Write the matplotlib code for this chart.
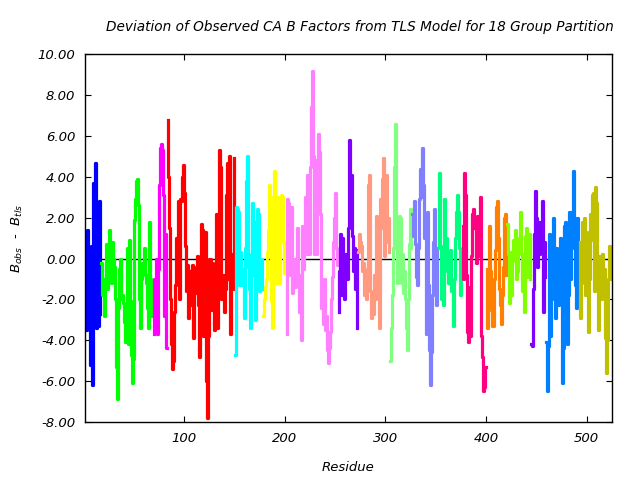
import numpy as np
import matplotlib
matplotlib.use("Agg")
import matplotlib.pyplot as plt

# ── Data: one list of deviations per TLS group ───────────────────────────────
FIRST_RESIDUE = 2
GROUP_COLORS = ["#0000FF", "#00FF00", "#FF00FF", "#FF0000", "#00FFFF", "#FFFF00",
                "#FF80FF", "#8000FF", "#FF9980", "#80FF80", "#8080FF", "#00FF80",
                "#FF0080", "#FF8000", "#80FF00", "#8000FF", "#0080FF", "#C0C000"]

g01 = [-2.6, -3.5, 1.4, -0.5, 0.5, -5.2, 0.6, -6.2, 3.7, -3.1, 4.7, -3.4, 1.0, -3.3, 2.8, -2.7]
g02 = [-0.2, -1.8, -1.0, -2.8, -1.2, 0.7, -1.5, -0.6, 1.4, 0.8, -1.2, 0.8, 0.0, -0.4, -2.0,
       -5.3, -6.9, -2.4, -0.5, 0.0, -2.0, -1.8, -2.2, -3.1, -4.1, -2.6, 0.5, -4.2, 0.9, -2.1,
       -4.7, -6.1, -4.9, 1.9, 2.9, 3.8, 3.9, 2.6, -2.0, -3.4, -1.0, -0.2, -0.5, 0.5, -0.8,
       -1.2, -2.4, -3.4, 1.8, -1.0, -2.8, -1.3]
g03 = [-3.7, -1.0, -3.6, 0.0, -3.7, -0.5, 3.6, 5.4, 5.6, 5.3, 3.1, -2.8, 1.2, -4.4]
g04 = [6.8, 4.0, 1.5, -2.0, -4.2, -5.4, -5.0, -2.6, -1.3, 1.0, -0.4, 2.8, -2.0, 2.9, 2.8,
       4.0, 4.6, 3.2, 0.6, -1.6, -0.3, -2.9, -1.0, -0.6, -2.3, -0.3, -3.9, -0.5, -1.7, -0.4,
       0.1, -2.3, -4.8, -0.8, 1.7, 1.4, -3.8, -1.2, 1.3, -6.0, -7.8, -3.8, 0.0, -2.5, -0.2,
       -1.3, -3.5, -0.8, 2.2, -3.4, 1.8, 5.3, 4.5, -2.0, -1.2, -0.8, -2.6, -1.5, 3.1, 4.7,
       -1.0, 5.0, -3.7, -1.1, 0.2, -1.5, 4.9]
g05 = [-4.7, 2.5, 2.4, 2.3, -1.3, 0.3, -1.2, -1.3, -0.5, -2.9, 0.5, 3.8, 5.0, -0.4, -1.5,
       -3.4, 0.2, 2.7, -0.8, 1.8, -3.0, -1.2, 2.4, 2.2, -1.6, -0.8, 0.0, -1.5]
g06 = [-2.8, -2.0, -1.4, -1.0, 0.3, 1.4, 3.6, 3.0, -2.1, -3.4, 1.5, 4.3, 2.0, -1.2, 3.0,
       -0.6, -1.2, 1.6, 3.1, 3.0, 0.8, -0.7, 0.5]
g07 = [-3.7, 2.9, 2.7, 0.2, -0.8, 2.5, -1.7, -0.8, 0.0, -1.4, -0.7, 1.5, -0.8, -2.6, -0.8,
       -4.0, 1.6, -0.5, 1.6, 3.0, 0.2, 4.1, 3.1, 0.2, 4.5, 7.4, 9.2, 5.0, 0.2, 4.8, 0.2, 4.4,
       6.1, 5.2, 2.2, -2.4, -1.5, -3.2, -1.0, -3.5, -2.8, -4.5, -5.1, -4.4, -3.6, -2.0, -0.9,
       0.8, 2.0, 3.2, 0.5, -0.3]
g08 = [-2.6, -0.6, 1.2, -1.8, 1.0, -0.6, -2.0, 0.2, -0.8, -1.0, 1.5, 5.8, 4.1, 1.1, -0.6,
       0.5, -1.5, 0.4, -3.4]
g09 = [0.3, 1.2, 0.8, 0.6, -0.6, -0.2, -1.8, -1.0, -2.0, -0.5, 3.6, 4.1, -1.6, -2.9, -2.0,
       -2.7, -0.8, -2.0, 2.1, 1.7, -0.5, -3.4, 2.9, 1.5, 3.9, 4.9, 0.1, 3.0, 4.1, 0.8, 2.0, 0.3]
g10 = [-5.0, -3.4, -1.8, 0.5, 4.5, 6.6, 1.0, -1.2, 0.0, 2.1, 2.0, -1.2, 0.2, -1.7, -0.6,
       -2.0, -3.4, -4.5, -2.0, 0.7, 2.4, 0.5]
g11 = [2.2, 1.1, 2.8, 0.7, -0.9, -1.3, 0.5, 2.9, 4.4, 3.0, 5.4, 3.6, 1.0, 2.2, -3.7, 2.3,
       -1.3, -4.5, -6.2, -4.6, -1.8, 0.8, 2.4, -1.5, -2.3, 0.5]
g12 = [0.5, 4.2, 0.6, -2.0, 0.5, -2.3, 2.9, 0.1, 1.0, -0.6, -1.2, -0.4, 0.4, -1.6, -1.2,
       -3.3, -1.0, 1.0, 2.3, 3.1, 2.3, 0.5, -1.8, 0.3]
g13 = [1.6, -1.0, 4.2, 3.1, -0.8, -3.6, -4.1, -1.4, -3.8, 0.1, 2.2, 2.4, 1.5, 2.0, -0.2,
       2.1, 0.1, 1.0, 3.0, -3.8, -4.8, -6.5, -6.3, -5.3]
g14 = [-0.5, -3.4, -1.6, 1.6, -0.6, -2.5, -3.3, -1.0, 0.4, 2.5, 2.8, 1.0, -1.5, -2.3, -3.2,
       -1.8, -0.4, 2.0, 2.2, -0.8]
g15 = [1.7, 0.2, -2.2, 0.3, -1.8, -0.1, 0.9, 0.3, 1.4, -1.0, -0.6, 0.3, 1.0, 2.3, 0.2,
       -1.6, -1.0, -2.6, 1.1, 1.5, -0.9, 0.2, 1.2, -1.0]
g16 = [-4.2, -4.3, -1.5, 1.2, 3.3, 2.0, -0.4, 1.8, 0.2, 1.0, 1.8, 2.8, -2.6, 0.8, -0.9]
g17 = [-4.1, -6.5, -4.3, 1.2, -3.8, -2.0, 0.8, 2.0, -0.5, -2.9, 0.5, -1.8, -2.3, -0.6, 1.0,
       -1.0, -6.1, -4.4, 1.6, 1.8, -1.2, -4.2, -1.8, 2.3, -1.0, 0.5, 2.3, 4.3, 2.0, -1.3,
       -2.4, 2.0, -1.0]
g18 = [0.8, -2.9, -1.2, 1.8, 0.5, 2.0, -1.8, 1.3, -0.5, -3.6, -1.0, 2.2, 0.9, 3.1, 3.2,
       -1.6, 3.5, 2.7, -1.2, -3.5, 0.1, -0.5, -2.0, 0.2, -1.8, -0.5, -3.9, -5.6, -4.0, -1.0,
       0.6, 0.0, -1.0]

GROUPS = [g01, g02, g03, g04, g05, g06, g07, g08, g09, g10,
          g11, g12, g13, g14, g15, g16, g17, g18]

Y_TICKS = [-8, -6, -4, -2, 0, 2, 4, 6, 8, 10]
X_TICKS = [100, 200, 300, 400, 500]
TITLE = "Deviation of Observed CA B Factors from TLS Model for 18 Group Partition"

# ── Plot ─────────────────────────────────────────────────────────────────────
fig = plt.figure(figsize=(6.4, 4.8), dpi=100)
ax = fig.add_axes([0.133, 0.121, 0.823, 0.766])

ax.axhline(0, color="black", lw=1.0, zorder=1)

start = FIRST_RESIDUE
for vals, col in zip(GROUPS, GROUP_COLORS):
    res = np.arange(start, start + len(vals))
    ax.plot(res, vals, color=col, lw=2.3, drawstyle="steps-mid", zorder=2)
    start += len(vals)

ax.set_xlim(FIRST_RESIDUE, start - 1)
ax.set_ylim(-8, 10)
ax.set_xticks(X_TICKS)
ax.set_xticklabels([str(t) for t in X_TICKS], fontstyle="italic", fontsize=9.5)
ax.set_yticks(Y_TICKS)
ax.set_yticklabels([f"{t:.2f}" for t in Y_TICKS], fontstyle="italic", fontsize=9.5)
ax.tick_params(direction="in", top=True, right=True, length=4, pad=7, colors="black")
for s in ax.spines.values():
    s.set_linewidth(1.0)

ax.set_xlabel("Residue", fontstyle="italic", fontsize=9.5, labelpad=12)
ax.set_ylabel(r"$B_{obs}$  -  $B_{tls}$", fontsize=9.5, labelpad=9)
fig.text(0.562, 0.944, TITLE, ha="center", va="center", fontstyle="italic", fontsize=9.8)

fig.savefig("out.png", dpi=100)
